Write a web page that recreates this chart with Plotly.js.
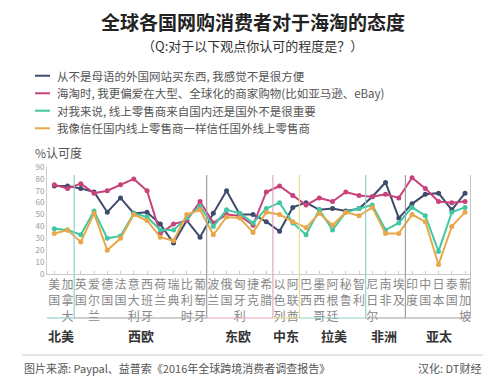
<!DOCTYPE html>
<html>
<head>
<meta charset="utf-8">
<script src="https://cdn.plot.ly/plotly-3.0.1.min.js"></script>
<style>html,body{margin:0;padding:0;background:#fff;}#chart{width:500px;height:390px;}</style>
</head>
<body>
<div id="chart"></div>
<script>
// ---- data ----
const categories = ['美国','加拿大','英国','爱尔兰','德国','法国','意大利','西班牙','荷兰','瑞典','比利时','葡萄牙','波兰','俄国','匈牙利','捷克','希腊','以色列','阿联酋','巴西','墨西哥','阿根廷','秘鲁','智利','尼日尔','南非','埃及','印度','中国','日本','泰国','新加坡'];

const seriesNames = [
  '从不是母语的外国网站买东西, 我感觉不是很方便',
  '海淘时, 我更偏爱在大型、全球化的商家购物(比如亚马逊、eBay)',
  '对我来说, 线上零售商来自国内还是国外不是很重要',
  '我像信任国内线上零售商一样信任国外线上零售商'
];

const inconvenient = [74,74,72,69,52,64,51,52,42,26,45,31,51,70,50,50,44,36,56,60,54,55,53,55,65,77,47,59,67,68,54,68];
const preferGlobal = [75,72,76,68,70,75,80,70,34,42,45,61,43,50,49,41,69,74,66,58,64,61,69,66,65,67,64,81,72,61,60,61];
const originNotImportant = [38,37,33,53,30,32,51,48,37,37,47,57,40,54,51,43,55,60,43,33,54,37,52,55,58,37,43,56,49,19,52,56];
const trustForeign = [34,37,27,51,20,30,50,45,31,28,50,54,33,48,47,35,52,50,44,39,51,41,52,49,56,34,34,50,44,8,40,52];

const regions = ['北美','西欧','东欧','中东','拉美','非洲','亚太'];
const regionCenters = [0.5, 6.55, 13.9, 17.5, 21.1, 24.9, 29.0];
const regionBounds = [-0.55, 1.5, 11.5, 16.5, 18.5, 23.5, 26.5, 31.45];

// ---- styles ----
const colors = ['#3e4b6d','#c8427c','#41c8a3','#e8a84a'];
const boundColors = ['#8ed3c9','#a0a0a0','#e3a6c2','#e9dc98','#8ed3c9','#a0a0a0','#a0a0a0'];
const FONT = '"Noto Sans CJK SC", "Noto Sans", sans-serif';

const values = [inconvenient, preferGlobal, originNotImportant, trustForeign];
const traces = values.map((v, i) => ({
  x: categories, y: v, type: 'scatter', mode: 'lines+markers', name: seriesNames[i],
  line: {color: colors[i], width: 2}, marker: {color: colors[i], size: 5},
  showlegend: false, hoverinfo: 'skip'
}));

const tickText = categories.map(c => c.split('').join('<br>'));

const shapes = [];
const yTop = 0.925, yBot = -0.411;
for (let k = 1; k < regionBounds.length; k++) {
  shapes.push({type: 'line', xref: 'x', yref: 'paper', x0: regionBounds[k], x1: regionBounds[k], y0: yTop, y1: yBot,
    line: {color: boundColors[k-1], width: 1.2}});
  shapes.push({type: 'line', xref: 'x', yref: 'paper', x0: regionBounds[k-1], x1: regionBounds[k], y0: yBot, y1: yBot,
    line: {color: boundColors[k-1], width: 1.2}});
}
// footer rule
shapes.push({type: 'line', xref: 'paper', yref: 'paper', x0: -0.059, x1: 1.028, y0: -0.757, y1: -0.757,
  line: {color: '#cccccc', width: 1.2}});

const annotations = regions.map((r, i) => ({
  text: '<b>' + r + '</b>', xref: 'x', yref: 'paper', x: regionCenters[i], y: -0.575,
  showarrow: false, font: {family: FONT, size: 13, color: '#333'}, xanchor: 'center', yanchor: 'middle'
}));

// legend (drawn as key lines + labels)
const legendRows = [1.853, 1.689, 1.526, 1.362];
seriesNames.forEach((n, i) => {
  shapes.push({type: 'line', xref: 'paper', yref: 'paper', x0: -0.0283, x1: 0.0071, y0: legendRows[i], y1: legendRows[i],
    line: {color: colors[i], width: 2}});
  annotations.push({text: n, xref: 'paper', yref: 'paper', x: 0.0189, y: legendRows[i], showarrow: false,
    font: {family: FONT, size: 11.5, color: '#555'}, xanchor: 'left', yanchor: 'middle'});
});

annotations.push({text: '（Q:对于以下观点你认可的程度是？）', xref: 'paper', yref: 'paper', x: 0.4835, y: 2.131,
  showarrow: false, font: {family: FONT, size: 13, color: '#333'}, xanchor: 'center', yanchor: 'middle'});
annotations.push({text: '%认可度', xref: 'paper', yref: 'paper', x: -0.03, y: 1.14,
  showarrow: false, font: {family: FONT, size: 12, color: '#555'}, xanchor: 'left', yanchor: 'middle', borderpad: 0});
annotations.push({text: '图片来源: Paypal、益普索《2016年全球跨境消费者调查报告》', xref: 'paper', yref: 'paper', x: -0.059, y: -0.879,
  showarrow: false, font: {family: FONT, size: 11, color: '#555'}, xanchor: 'left', yanchor: 'middle'});
annotations.push({text: '汉化: DT财经', xref: 'paper', yref: 'paper', x: 1.028, y: -0.879,
  showarrow: false, font: {family: FONT, size: 11, color: '#555'}, xanchor: 'right', yanchor: 'middle'});

const layout = {
  width: 500, height: 390,
  margin: {l: 47, r: 29, t: 167, b: 116},
  paper_bgcolor: '#ffffff', plot_bgcolor: '#ffffff',
  font: {family: FONT},
  showlegend: false,
  title: {text: '<b>全球各国网购消费者对于海淘的态度</b>', x: 0.506, xref: 'container', y: 0.941, yref: 'container', yanchor: 'middle',
    font: {family: FONT, size: 19, color: '#222'}},
  xaxis: {
    type: 'category', range: [-0.55, 31.45], tickvals: categories, ticktext: tickText,
    tickfont: {family: FONT, size: 12, color: '#888'}, tickangle: 0,
    showline: true, linecolor: '#cccccc', linewidth: 1, ticks: 'inside', ticklen: 3, tickcolor: '#cccccc',
    showgrid: false, zeroline: false, fixedrange: true
  },
  yaxis: {
    range: [0, 90], dtick: 10, tick0: 0, tickfont: {family: FONT, size: 8, color: '#999'},
    showline: true, linecolor: '#cccccc', linewidth: 1, ticks: '', showgrid: false, zeroline: false, fixedrange: true
  },
  shapes: shapes,
  annotations: annotations
};

Plotly.newPlot('chart', traces, layout, {displayModeBar: false, staticPlot: true});
</script>
</body>
</html>
